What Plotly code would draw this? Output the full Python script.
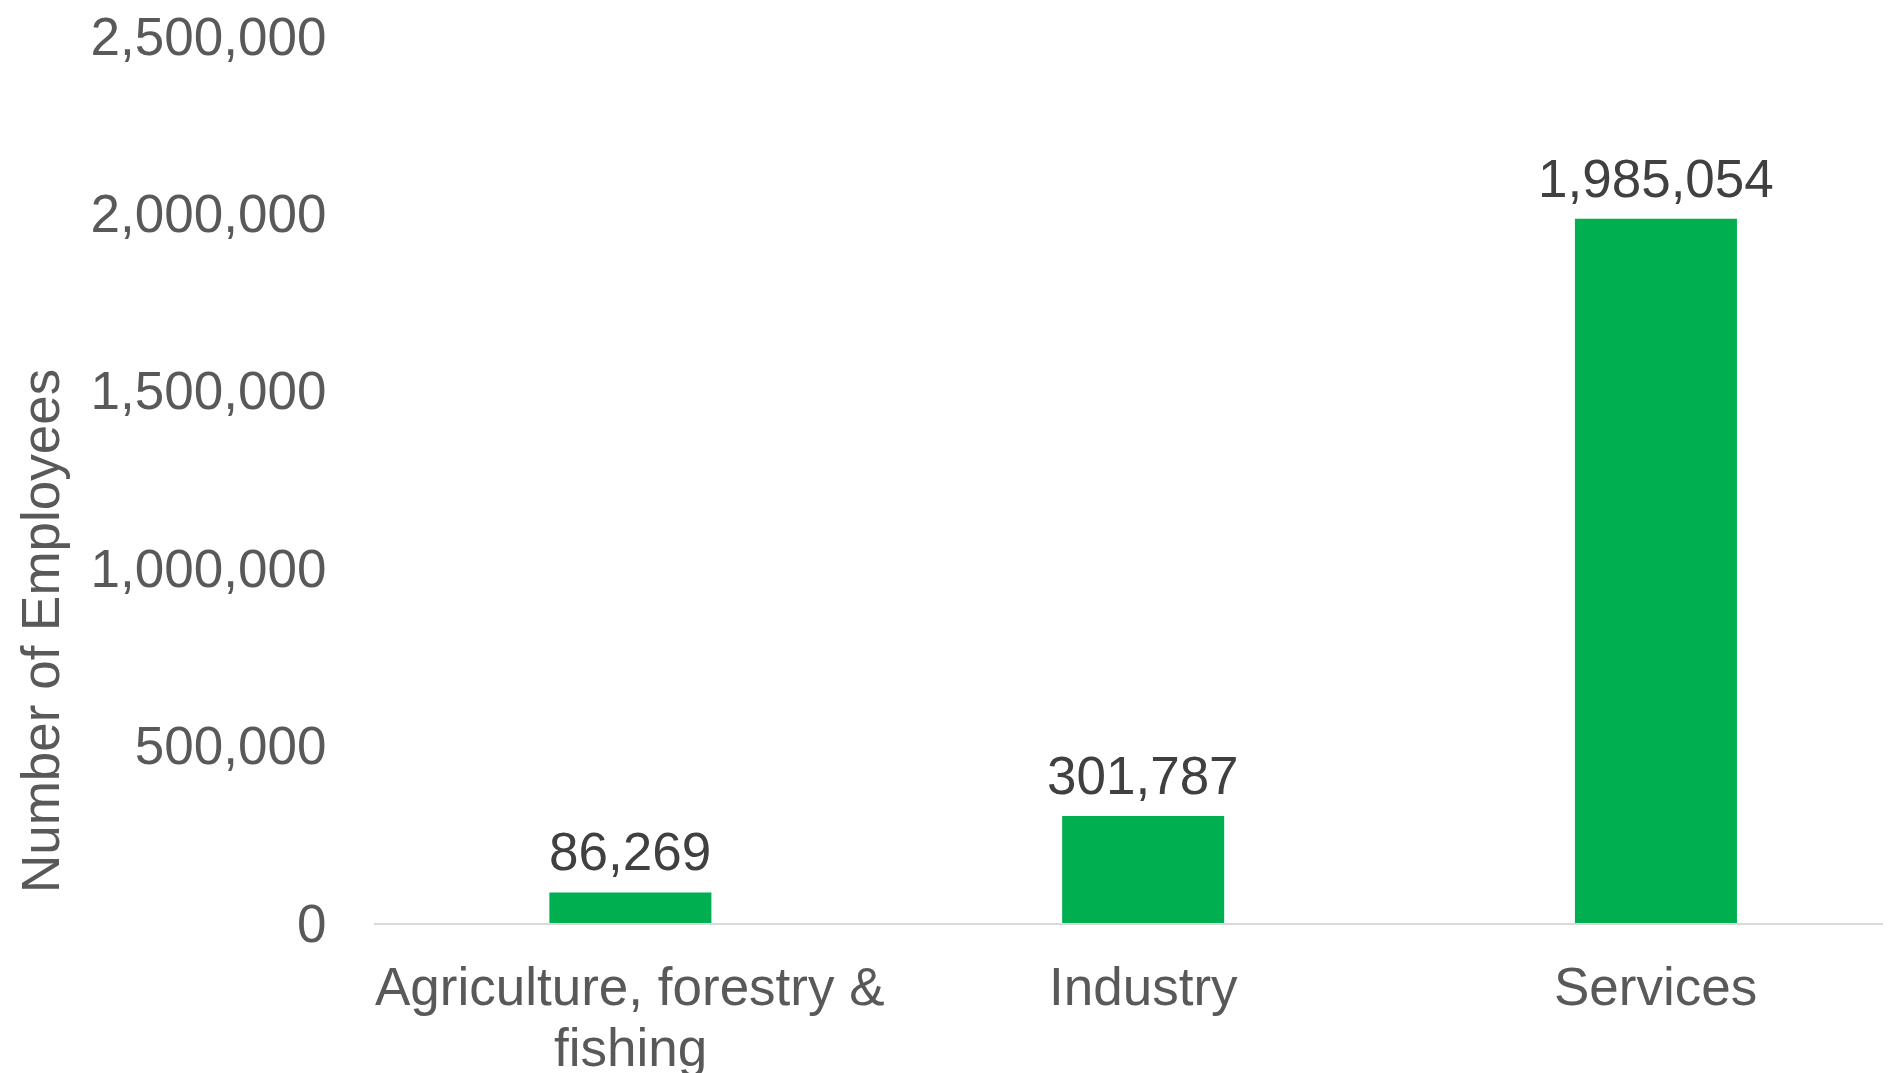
import plotly.graph_objects as go

categories = ["Agriculture, forestry & fishing", "Industry", "Services"]
category_label_lines = [["Agriculture, forestry &", "fishing"], ["Industry"], ["Services"]]
employees = [86269, 301787, 1985054]
y_ticks = [0, 500000, 1000000, 1500000, 2000000, 2500000]
y_tick_labels = [f"{v:,}" for v in y_ticks]

FONT = "Liberation Sans, Arial, sans-serif"

fig = go.Figure()
fig.add_trace(go.Bar(
    x=categories, y=employees,
    marker=dict(color="#00B050", line=dict(width=0)),
    width=0.316,
    hoverinfo="skip",
))

# data labels
for c, v in zip(categories, employees):
    fig.add_annotation(
        x=c, y=v, text=f"{v:,}", showarrow=False,
        yanchor="bottom", yshift=9,
        font=dict(family=FONT, size=53, color="#404040"),
    )

# category labels (wrapped, tighter line spacing)
for c, lines in zip(categories, category_label_lines):
    for i, line in enumerate(lines):
        fig.add_annotation(
            x=c, y=0, text=line, showarrow=False,
            yanchor="middle", yshift=-63 - 61 * i,
            font=dict(family=FONT, size=53, color="#595959"),
        )

fig.add_annotation(
    xref="paper", yref="paper", x=-0.2191, y=0.329,
    text="Number of Employees", textangle=-90, showarrow=False,
    font=dict(family=FONT, size=53, color="#595959"),
    xanchor="center", yanchor="middle",
)

# page body has an 8px default margin; margins below compensate for it
fig.update_layout(
    width=1891, height=1073,
    margin=dict(l=366, r=0, t=28, b=158),
    plot_bgcolor="white", paper_bgcolor="white",
    showlegend=False,
    font=dict(family=FONT, size=53, color="#595959"),
    xaxis=dict(
        range=[-0.5, 2.474],
        showline=True, linecolor="#D9D9D9", linewidth=1.5,
        showgrid=False, zeroline=False,
        showticklabels=False, ticks="",
        automargin=False, fixedrange=True,
    ),
    yaxis=dict(
        range=[0, 2500000],
        tickvals=y_ticks, ticktext=y_tick_labels,
        showgrid=False, zeroline=False, showline=False,
        ticks="outside", ticklen=36, tickcolor="rgba(0,0,0,0)",
        tickfont=dict(family=FONT, size=53, color="#595959"),
        ticklabeloverflow="allow",
        automargin=False, fixedrange=True,
    ),
)

fig.write_html("out.html")
